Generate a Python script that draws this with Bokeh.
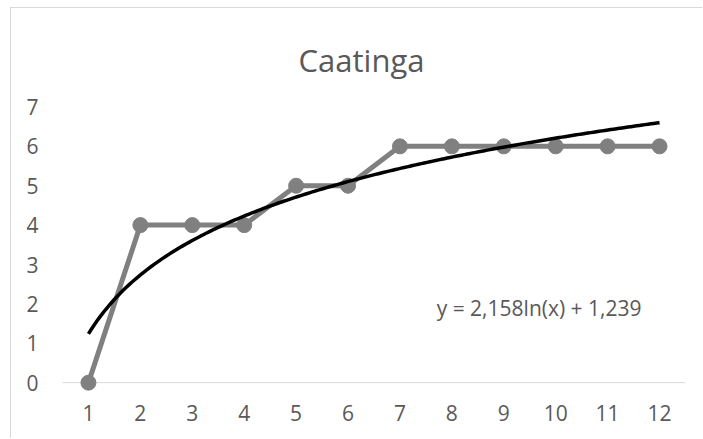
import numpy as np
from bokeh.plotting import figure
from bokeh.models import Label, FixedTicker, ColumnDataSource, Range1d, Span
from bokeh.embed import file_html
from bokeh.resources import INLINE

# Sampling effort (1..12) and cumulative species count
categories = ["1", "2", "3", "4", "5", "6", "7", "8", "9", "10", "11", "12"]
species = [0, 4, 4, 4, 5, 5, 6, 6, 6, 6, 6, 6]
y_ticks = [0, 1, 2, 3, 4, 5, 6, 7]

# Logarithmic trendline coefficients: y = a*ln(x) + b
trend_a = 2.158
trend_b = 1.239

TEXT = "#595959"
GRID = "#d9d9d9"
SERIES = "#808080"
FONT = "Open Sans"

x_pos = list(range(1, len(categories) + 1))
src = ColumnDataSource(dict(x=x_pos, y=species))

tx = np.linspace(1, len(categories), 200)
ty = trend_a * np.log(tx) + trend_b

# the value range runs above the last tick so the title sits inside the plot area,
# and a little below zero so markers on the baseline are not cut off
p = figure(
    width=692, height=431,
    output_backend="svg", toolbar_location=None,
    x_range=Range1d(0.5, len(categories) + 0.5),
    y_range=Range1d(-0.25, 9.5),
    min_border_left=51, min_border_right=18,
    min_border_top=0, min_border_bottom=47,
    background_fill_color="white", border_fill_color="white",
)
p.styles = {
    "margin-left": "10px", "margin-top": "7px",
    "border-left": f"1px solid {GRID}", "border-top": f"1px solid {GRID}",
}
p.outline_line_color = None
p.grid.visible = False

# x axis: category labels, no ticks; its baseline is drawn at zero below
p.xaxis.ticker = FixedTicker(ticks=x_pos)
p.xaxis.major_label_overrides = {i: c for i, c in zip(x_pos, categories)}
p.xaxis.axis_line_color = None
p.xaxis.major_tick_line_color = None
p.xaxis.minor_tick_line_color = None
p.xaxis.major_label_text_font = FONT
p.xaxis.major_label_text_font_size = "21px"
p.xaxis.major_label_text_color = TEXT
p.xaxis.major_label_standoff = 6

# y axis: labels only
p.yaxis.ticker = FixedTicker(ticks=y_ticks)
p.yaxis.axis_line_color = None
p.yaxis.major_tick_line_color = None
p.yaxis.minor_tick_line_color = None
p.yaxis.major_label_text_font = FONT
p.yaxis.major_label_text_font_size = "21px"
p.yaxis.major_label_text_color = TEXT
p.yaxis.major_label_standoff = 18

# category axis baseline at zero
p.add_layout(Span(location=0, dimension="width", line_color=GRID, line_width=1, level="underlay"))

# data series
p.line("x", "y", source=src, line_color=SERIES, line_width=5)
p.scatter("x", "y", source=src, size=15, fill_color=SERIES, line_color=SERIES)

# trendline
p.line(tx, ty, line_color="black", line_width=3.5)

# trendline equation
p.add_layout(Label(
    x=9.68, y=1.90, text=f"y = {trend_a:.3f}ln(x) + {trend_b:.3f}".replace(".", ","),
    text_align="center", text_baseline="alphabetic",
    text_font=FONT, text_font_size="21px", text_color=TEXT,
))

# chart title
p.add_layout(Label(
    x=6.26, y=8.18, text="Caatinga", text_align="center", text_baseline="alphabetic",
    text_font=FONT, text_font_size="31px", text_color=TEXT,
))

open("out.html", "w").write(file_html(p, INLINE))
